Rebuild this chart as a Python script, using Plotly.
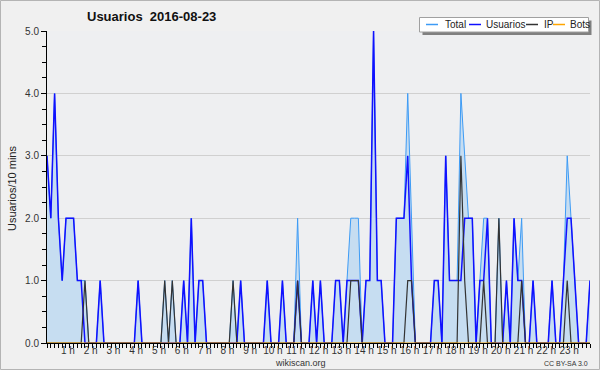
import plotly.graph_objects as go

# ---- data (10-minute slots, 144 per day) ----
usuarios = [
    3, 2, 4, 2, 1, 2, 2, 2, 1, 1, 0, 0,
    0, 0, 1, 0, 0, 0, 0, 0, 0, 0, 0, 0,
    1, 0, 0, 0, 0, 0, 0, 0, 0, 0, 0, 0,
    1, 0, 2, 0, 1, 1, 0, 0, 0, 0, 0, 0,
    0, 0, 0, 1, 0, 0, 0, 0, 0, 0, 1, 0,
    0, 0, 1, 0, 0, 0, 1, 0, 0, 0, 1, 0,
    1, 0, 0, 0, 1, 1, 0, 1, 1, 1, 1, 0,
    1, 1, 5, 1, 1, 0, 0, 0, 2, 2, 2, 3,
    1, 0, 0, 0, 0, 0, 1, 1, 0, 3, 1, 1,
    1, 1, 2, 2, 2, 0, 1, 1, 2, 0, 0, 0,
    0, 1, 0, 2, 1, 1, 0, 0, 1, 0, 0, 0,
    0, 1, 0, 0, 1, 2, 2, 1, 0, 0, 0, 1,
]
ip = [
    0, 0, 0, 0, 0, 0, 0, 0, 0, 0, 1, 0,
    0, 0, 0, 0, 0, 0, 0, 0, 0, 0, 0, 0,
    0, 0, 0, 0, 0, 0, 0, 1, 0, 1, 0, 0,
    0, 0, 0, 0, 0, 0, 0, 0, 0, 0, 0, 0,
    0, 1, 0, 0, 0, 0, 0, 0, 0, 0, 0, 0,
    0, 0, 0, 0, 0, 0, 1, 0, 0, 0, 0, 0,
    0, 0, 0, 0, 0, 0, 0, 0, 1, 1, 1, 0,
    0, 0, 0, 0, 0, 0, 0, 0, 0, 0, 0, 1,
    1, 0, 0, 0, 0, 0, 0, 0, 0, 0, 0, 0,
    0, 3, 1, 0, 0, 0, 0, 1, 0, 0, 0, 2,
    0, 0, 0, 0, 0, 1, 0, 0, 0, 0, 0, 0,
    0, 0, 0, 0, 0, 1, 0, 0, 0, 0, 0, 0,
]
bots = [0] * 144
total = [u + i + b for u, i, b in zip(usuarios, ip, bots)]
slots = list(range(144))
hour_labels = [f"{h} h" for h in range(1, 24)]
hour_slots = [6 * h for h in range(1, 24)]
title_text = "Usuarios  2016-08-23"
series_names = ["Total", "Usuarios", "IP", "Bots"]
series_colors = ["#3d9bf5", "#1010ff", "#333333", "#ffa500"]

FONT = "Liberation Sans, Arial, sans-serif"
W, H = 600, 370
L, R, T, B = 47, 590, 31, 343


def px(x):
    return (x - L) / (R - L)


def py(y):
    return (B - y) / (B - T)


fig = go.Figure()
fig.add_trace(go.Scatter(x=slots, y=total, mode="lines", name="Total",
                         line=dict(color=series_colors[0], width=1),
                         fill="tozeroy", fillcolor="#c6ddf1", showlegend=False))
fig.add_trace(go.Scatter(x=slots, y=usuarios, mode="lines", name="Usuarios",
                         line=dict(color=series_colors[1], width=1.5), showlegend=False))
fig.add_trace(go.Scatter(x=slots, y=ip, mode="lines", name="IP",
                         line=dict(color=series_colors[2], width=1.2), showlegend=False))
fig.add_trace(go.Scatter(x=slots, y=bots, mode="lines", name="Bots",
                         line=dict(color=series_colors[3], width=1), showlegend=False))

shapes = []
annotations = []
# outer border
shapes.append(dict(type="rect", xref="paper", yref="paper",
                   x0=px(0.5), x1=px(599.5), y0=py(0.5), y1=py(369.5),
                   line=dict(color="#b4b4b4", width=1), layer="below"))
# legend box with shadow
lx0, lx1, ly0, ly1 = 419.5, 588.5, 17.5, 32
shapes.append(dict(type="rect", xref="paper", yref="paper",
                   x0=px(lx0 + 3), x1=px(lx1 + 3), y0=py(ly1 + 3), y1=py(ly0 + 3),
                   line=dict(width=0), fillcolor="#808080"))
shapes.append(dict(type="rect", xref="paper", yref="paper",
                   x0=px(lx0), x1=px(lx1), y0=py(ly1), y1=py(ly0),
                   line=dict(color="#a0a0a0", width=1), fillcolor="white"))
item_pos = [(426, 443), (469, 484), (526, 542), (553, 568)]
for (sx, tx), name, col in zip(item_pos, series_names, series_colors):
    shapes.append(dict(type="line", xref="paper", yref="paper",
                       x0=px(sx), x1=px(sx + 12), y0=py(24.5), y1=py(24.5),
                       line=dict(color=col, width=1.5)))
    annotations.append(dict(x=px(tx), y=py(24.5), xref="paper", yref="paper",
                            text=name, showarrow=False, xanchor="left", yanchor="middle",
                            font=dict(family=FONT, size=10, color="#222")))
# title
annotations.append(dict(x=px(85), y=py(16.5), xref="paper", yref="paper",
                        text="<b>" + title_text + "</b>", showarrow=False,
                        xanchor="left", yanchor="middle",
                        font=dict(family=FONT, size=13, color="#111")))
# y title
annotations.append(dict(x=px(12), y=py(189), xref="paper", yref="paper",
                        text="Usuarios/10 mins", showarrow=False, textangle=-90,
                        xanchor="center", yanchor="middle",
                        font=dict(family=FONT, size=11, color="#222")))
# footer
annotations.append(dict(x=px(300), y=py(363), xref="paper", yref="paper",
                        text="wikiscan.org", showarrow=False,
                        xanchor="center", yanchor="middle",
                        font=dict(family=FONT, size=9, color="#333")))
annotations.append(dict(x=px(590), y=py(363), xref="paper", yref="paper",
                        text="CC BY-SA 3.0", showarrow=False,
                        xanchor="right", yanchor="middle",
                        font=dict(family=FONT, size=7, color="#333")))

fig.update_layout(
    width=W, height=H,
    margin=dict(l=L, r=W - R, t=T, b=H - B, pad=0, autoexpand=False),
    paper_bgcolor="#f0f0f0", plot_bgcolor="#eeeff1",
    font=dict(family=FONT, size=10, color="#333"),
    shapes=shapes, annotations=annotations,
    xaxis=dict(range=[0, 143], tickmode="array",
               tickvals=[s - 0.5 for s in hour_slots], ticktext=hour_labels,
               ticks="", showline=True, linecolor="black", linewidth=1, showgrid=False,
               zeroline=False, ticklabelstandoff=-2,
               tickfont=dict(family=FONT, size=10, color="#333"),
               minor=dict(dtick=1, tick0=0, ticks="outside", ticklen=4,
                          tickcolor="black", showgrid=False)),
    yaxis=dict(range=[0, 5], dtick=1, tickformat=".1f",
               ticks="outside", ticklen=5, tickcolor="black",
               showline=True, linecolor="black", linewidth=1,
               showgrid=True, gridcolor="#d0d0d0", gridwidth=1, zeroline=False,
               tickfont=dict(family=FONT, size=10, color="#333"),
               minor=dict(dtick=0.25, ticks="outside", ticklen=4,
                          tickcolor="black", showgrid=False)),
)

fig.write_html("out.html", config={"displayModeBar": False},
               post_script="document.body.style.margin='0';document.body.style.overflow='hidden';")
